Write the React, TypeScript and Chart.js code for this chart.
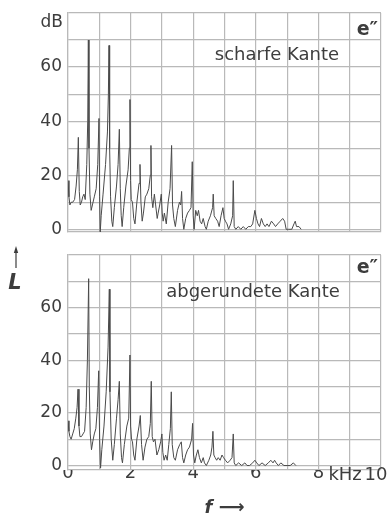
import React, { useEffect, useRef } from "react";
import { Chart, registerables } from "chart.js";

Chart.register(...registerables);

// ---------- data ----------
// upper panel: "scharfe Kante"
const freqTop = [
  0.0, 0.03, 0.06, 0.1, 0.15, 0.21, 0.26, 0.3, 0.33, 0.36, 0.39, 0.43, 0.47, 0.51, 0.55, 0.6, 0.63, 0.65, 0.67, 0.7,
  0.74, 0.78, 0.84, 0.9, 0.95, 0.99, 1.01, 1.03, 1.06, 1.12, 1.2, 1.26, 1.29, 1.31, 1.33, 1.36, 1.4, 1.43, 1.48, 1.55,
  1.6, 1.64, 1.67, 1.7, 1.73, 1.78, 1.85, 1.92, 1.96, 1.98, 2.0, 2.02, 2.06, 2.1, 2.14, 2.2, 2.27, 2.3, 2.33, 2.37,
  2.41, 2.47, 2.52, 2.58, 2.63, 2.65, 2.67, 2.71, 2.76, 2.8, 2.85, 2.88, 2.93, 2.98, 3.01, 3.04, 3.08, 3.14, 3.2, 3.26,
  3.31, 3.34, 3.38, 3.43, 3.5, 3.56, 3.6, 3.63, 3.66, 3.7, 3.76, 3.82, 3.88, 3.93, 3.97, 4.0, 4.03, 4.08, 4.13, 4.17,
  4.22, 4.27, 4.32, 4.38, 4.42, 4.48, 4.55, 4.62, 4.64, 4.67, 4.72, 4.78, 4.83, 4.89, 4.95, 4.99, 5.03, 5.08, 5.13, 5.2,
  5.26, 5.28, 5.31, 5.36, 5.44, 5.52, 5.6, 5.68, 5.76, 5.84, 5.9, 5.97, 6.02, 6.07, 6.12, 6.18, 6.24, 6.3, 6.36, 6.42,
  6.5, 6.57, 6.63, 6.7, 6.78, 6.86, 6.92, 6.97, 7.05, 7.15, 7.22, 7.26, 7.3, 7.38, 7.45,
];
const levelTop = [
  18, 12, 9, 10, 10, 11, 16, 22, 34, 14, 9, 10, 12, 13, 11, 24, 40, 70, 30, 13,
  7, 9, 12, 15, 24, 41, 12, -1, 5, 13, 24, 36, 50, 68, 30, 12, 3, 1, 8, 16,
  24, 37, 15, 5, 1, 8, 16, 22, 30, 48, 18, 11, 10, 4, 2, 10, 17, 24, 10, 3,
  6, 12, 13, 15, 20, 31, 12, 8, 13, 9, 4, 6, 9, 13, 6, 3, 6, 2, 10, 15,
  31, 9, 4, 1, 7, 10, 9, 14, 4, 0, 4, 6, 7, 8, 25, 5, 0, 7, 5, 7,
  3, 2, 4, 1, 0, 3, 5, 8, 13, 5, 4, 3, 1, 5, 8, 4, 3, 2, 0, 2,
  5, 18, 1, 0, 1, 0, 1, 0, 1, 1, 2, 7, 4, 2, 1, 4, 2, 1, 2, 1,
  3, 2, 1, 2, 3, 4, 3, 0, 0, 0, 2, 3, 1, 1, 0,
];

// lower panel: "abgerundete Kante"
const freqBottom = [
  0.0, 0.03, 0.06, 0.1, 0.15, 0.2, 0.25, 0.29, 0.32, 0.35, 0.38, 0.43, 0.48, 0.53, 0.58, 0.62, 0.66, 0.68, 0.71, 0.75,
  0.79, 0.84, 0.89, 0.94, 0.98, 1.01, 1.04, 1.08, 1.15, 1.22, 1.28, 1.32, 1.34, 1.38, 1.43, 1.48, 1.55, 1.6, 1.64, 1.67,
  1.71, 1.74, 1.8, 1.88, 1.94, 1.98, 2.0, 2.03, 2.06, 2.1, 2.14, 2.2, 2.27, 2.31, 2.35, 2.4, 2.46, 2.52, 2.58, 2.63,
  2.66, 2.69, 2.73, 2.78, 2.84, 2.9, 2.96, 3.0, 3.03, 3.07, 3.12, 3.17, 3.22, 3.27, 3.3, 3.33, 3.38, 3.43, 3.5, 3.57,
  3.62, 3.66, 3.7, 3.76, 3.82, 3.88, 3.95, 3.98, 4.01, 4.05, 4.1, 4.15, 4.2, 4.26, 4.32, 4.36, 4.42, 4.5, 4.56, 4.6,
  4.63, 4.66, 4.7, 4.75, 4.8, 4.86, 4.92, 4.97, 5.03, 5.1, 5.18, 5.24, 5.28, 5.31, 5.36, 5.45, 5.55, 5.65, 5.72, 5.8,
  5.9, 5.97, 6.03, 6.1, 6.2, 6.3, 6.4, 6.48, 6.55, 6.6, 6.65, 6.72, 6.8, 6.9, 7.0, 7.1, 7.2, 7.28,
];
const levelBottom = [
  17, 13, 11, 10, 12, 14, 18, 22, 29, 15, 11, 11, 12, 13, 22, 40, 71, 30, 12, 6,
  9, 12, 14, 22, 36, 10, -1, 6, 15, 28, 45, 67, 28, 10, 2, 8, 18, 25, 32, 12,
  3, 1, 8, 15, 18, 42, 15, 10, 9, 4, 2, 10, 15, 19, 8, 2, 7, 10, 11, 16,
  32, 11, 9, 10, 4, 6, 9, 12, 5, 2, 4, 2, 8, 14, 28, 8, 3, 2, 6, 8,
  9, 3, 1, 4, 6, 7, 10, 16, 4, 1, 4, 6, 3, 1, 3, 1, 0, 2, 4, 7,
  13, 4, 3, 2, 3, 2, 4, 3, 2, 1, 2, 3, 12, 1, 0, 1, 0, 1, 0, 0,
  1, 2, 1, 0, 1, 0, 1, 2, 1, 2, 1, 0, 1, 0, 0, 0, 1, 0,
];

// axis ticks and labels
const xTickValues = [0, 2, 4, 6, 8];
const xTickLabels = ["0", "2", "4", "6", "8"];
const xLastValue = 10;
const xLastLabel = "10";
const xUnit = "kHz";
const yGridValues = [0, 10, 20, 30, 40, 50, 60, 70, 80];
const yLabelValues = [0, 20, 40, 60];
const yUnit = "dB";
const panelTitles = ["scharfe Kante", "abgerundete Kante"];
const noteLabel = "e\u2033";

// ---------- styles ----------
const FAMILY = "'DejaVu Sans', 'Liberation Sans', sans-serif";
const TEXT = "#3d3d3d";
const GRID = "#b9b9b9";
const LINE = "#4a4a4a";

type TextItem = {
  text: string;
  x: number;
  y: number;
  align: CanvasTextAlign;
  font: string;
  xValue?: number; // if set, x is an offset from the pixel of this x-axis value
};

type PanelProps = {
  freqs: number[];
  levels: number[];
  yMin: number;
  width: number;
  height: number;
  top: number;
  padTop: number;
  xAxisHeight: number;
  showX: boolean;
  texts: TextItem[];
  drawArrow?: boolean;
};

function Panel(props: PanelProps) {
  const ref = useRef<HTMLCanvasElement | null>(null);

  useEffect(() => {
    if (!ref.current) return;
    const p = props;
    const textPlugin = {
      id: "panelTexts",
      afterDraw(chart: any) {
        const ctx = chart.ctx as CanvasRenderingContext2D;
        ctx.save();
        ctx.fillStyle = TEXT;
        ctx.textBaseline = "alphabetic";
        for (const t of p.texts) {
          ctx.font = t.font;
          ctx.textAlign = t.align;
          const x = t.xValue !== undefined ? chart.scales.x.getPixelForValue(t.xValue) + t.x : t.x;
          ctx.fillText(t.text, x, t.y);
        }
        if (p.drawArrow) {
          ctx.strokeStyle = TEXT;
          ctx.lineWidth = 1.2;
          ctx.beginPath();
          ctx.moveTo(16, 28);
          ctx.lineTo(16, 11);
          ctx.stroke();
          ctx.beginPath();
          ctx.moveTo(16, 6);
          ctx.lineTo(13.8, 13);
          ctx.lineTo(18.2, 13);
          ctx.closePath();
          ctx.fill();
        }
        ctx.restore();
      },
    };

    const chart = new Chart(ref.current, {
      type: "line",
      data: {
        datasets: [
          {
            data: p.freqs.map((f, i) => ({ x: f, y: p.levels[i] })),
            borderColor: LINE,
            borderWidth: 1,
            pointRadius: 0,
            tension: 0,
            fill: false,
          },
        ],
      },
      options: {
        animation: false,
        responsive: false,
        maintainAspectRatio: false,
        devicePixelRatio: 1,
        layout: { padding: { left: 0, right: 8, top: p.padTop, bottom: 0 } },
        plugins: { legend: { display: false }, tooltip: { enabled: false } },
        scales: {
          x: {
            type: "linear",
            min: 0,
            max: 10,
            ticks: {
              stepSize: 1,
              display: p.showX,
              autoSkip: false,
              maxRotation: 0,
              padding: -5.5,
              color: TEXT,
              font: { family: FAMILY, size: 18, lineHeight: 1 },
              callback: (v: any) => {
                const i = xTickValues.indexOf(Number(v));
                return i >= 0 ? xTickLabels[i] : "";
              },
            },
            grid: { color: GRID, lineWidth: 1.2, drawTicks: false },
            border: { color: GRID, width: 1.2 },
            title: p.showX
              ? {
                  display: true,
                  text: "f \u27F6",
                  color: TEXT,
                  font: { family: FAMILY, size: 18, style: "italic", weight: "bold", lineHeight: 0.6 },
                  padding: { top: 0, bottom: 2 },
                }
              : { display: false },
            afterFit: (s: any) => {
              s.height = p.xAxisHeight;
              s.paddingLeft = 0;
              s.paddingRight = 0;
            },
          } as any,
          y: {
            type: "linear",
            min: p.yMin,
            max: 80,
            afterBuildTicks: (s: any) => {
              s.ticks = yGridValues.map((v) => ({ value: v }));
            },
            ticks: {
              padding: 6,
              color: TEXT,
              font: { family: FAMILY, size: 17, lineHeight: 1 },
              callback: (v: any) => (yLabelValues.includes(Number(v)) ? String(v) : ""),
            },
            grid: { color: GRID, lineWidth: 1.2, drawTicks: false },
            border: { color: GRID, width: 1.2 },
            afterFit: (s: any) => {
              s.width = 68;
              s.paddingTop = 0;
              s.paddingBottom = 0;
            },
          } as any,
        },
      },
      plugins: [textPlugin],
    });
    return () => chart.destroy();
  }, []);

  return (
    <canvas
      ref={ref}
      width={props.width}
      height={props.height}
      style={{ position: "absolute", left: 0, top: props.top, width: props.width, height: props.height, display: "block" }}
    />
  );
}

export default function App() {
  const W = 389;
  return (
    <div style={{ position: "absolute", left: 0, top: 0, width: W, height: 516, background: "#fff", overflow: "hidden" }}>
      <Panel
        freqs={freqTop}
        levels={levelTop}
        yMin={-1}
        width={W}
        height={240}
        top={0}
        padTop={13}
        xAxisHeight={8}
        showX={false}
        texts={[
          { text: yUnit, x: 63, y: 27, align: "right", font: `17px ${FAMILY}` },
          { text: noteLabel, x: 378, y: 35, align: "right", font: `bold 19px ${FAMILY}` },
          { text: panelTitles[0], x: 277, y: 60, align: "center", font: `18px ${FAMILY}` },
        ]}
      />
      <Panel
        freqs={freqBottom}
        levels={levelBottom}
        yMin={-1.7}
        width={W}
        height={276}
        top={240}
        padTop={15}
        xAxisHeight={46}
        showX={true}
        drawArrow={true}
        texts={[
          { text: noteLabel, x: 378, y: 33, align: "right", font: `bold 19px ${FAMILY}` },
          { text: panelTitles[1], x: 253, y: 57, align: "center", font: `18px ${FAMILY}` },
          { text: "L", x: 15, y: 49, align: "center", font: `italic bold 21px ${FAMILY}` },
          { text: xUnit, x: 10, xValue: 8, y: 240, align: "left", font: `18px ${FAMILY}` },
          { text: xLastLabel, x: -5, xValue: xLastValue, y: 240, align: "center", font: `18px ${FAMILY}` },
        ]}
      />
    </div>
  );
}
